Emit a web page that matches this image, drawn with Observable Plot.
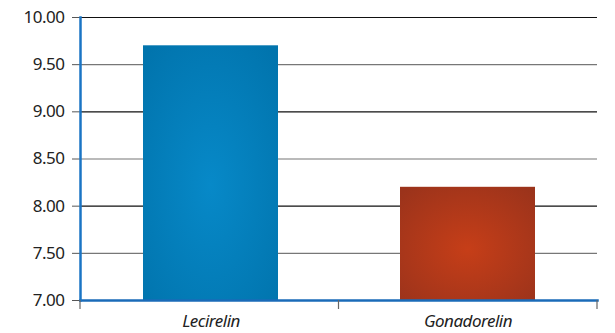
<!DOCTYPE html>
<html>
<head>
<meta charset="utf-8">
<script src="https://cdn.jsdelivr.net/npm/d3@7"></script>
<script src="https://cdn.jsdelivr.net/npm/@observablehq/plot@0.6"></script>
<style>
  html, body { margin: 0; padding: 0; background: #fff; }
  #chart svg { display: block; }
</style>
</head>
<body>
<div id="chart"></div>
<script>
// Values per drug
const drugs = ["Lecirelin", "Gonadorelin"];
const values = [9.70, 8.20];
const gradients = ["url(#gradBlue)", "url(#gradRed)"];
const yTicks = [7.00, 7.50, 8.00, 8.50, 9.00, 9.50, 10.00];

const data = drugs.map((d, i) => ({drug: d, value: values[i], grad: gradients[i]}));
const grid = yTicks.map((t, i) => ({t, stroke: i % 2 === 0 ? "#111" : "#777"}));

const font = "'Noto Sans', sans-serif";

const plot = Plot.plot({
  width: 615,
  height: 333,
  marginLeft: 80,
  marginRight: 18,
  marginTop: 17,
  marginBottom: 33,
  style: {fontFamily: font, fontSize: "17px", color: "#222", background: "#fff", letterSpacing: "-0.5px"},
  x: {domain: drugs, paddingInner: 0.475, paddingOuter: 0.243, label: null},
  y: {domain: [7, 10], label: null},
  color: {type: "identity"},
  marks: [
    Plot.ruleY(grid.filter(d => d.t > 7), {y: "t", stroke: "stroke", strokeWidth: 1.2}),
    Plot.barY(data, {x: "drug", y1: 7, y2: "value", fill: "grad"}),
    Plot.axisY({
      ticks: yTicks, tickFormat: d3.format(".2f"), tickSize: 8, tickPadding: 8,
      stroke: "#555", fontSize: 17, fill: "#222"
    }),
    Plot.axisX({ticks: [], label: null}),
    Plot.text(data, {
      x: "drug", frameAnchor: "bottom", dy: 21, text: "drug",
      fontStyle: "italic", fontSize: 17, fill: "#222", lineAnchor: "middle"
    }),
    Plot.frame({anchor: "bottom", stroke: "#1a6bb8", strokeWidth: 2.5}),
    Plot.frame({anchor: "left", stroke: "#1a74c4", strokeWidth: 2.5})
  ]
});

const svg = d3.select(plot);
const defs = svg.insert("defs", ":first-child");
const mkGrad = (id, inner, outer) => {
  const g = defs.append("radialGradient").attr("id", id)
    .attr("cx", "50%").attr("cy", "55%").attr("r", "70%");
  g.append("stop").attr("offset", "0%").attr("stop-color", inner);
  g.append("stop").attr("offset", "100%").attr("stop-color", outer);
};
mkGrad("gradBlue", "#0789c8", "#0174ad");
mkGrad("gradRed", "#c63e18", "#9b331b");

// Category boundary ticks below the baseline, placed from the x scale's range
const xs = plot.scale("x"), ys = plot.scale("y");
const [left, right] = xs.range;
const y0 = ys.apply(7);
const tickLayer = svg.append("g");
const step = (right - left) / drugs.length;
d3.range(drugs.length + 1).map(i => left + i * step).forEach(bx => {
  tickLayer.append("line").attr("x1", bx).attr("x2", bx).attr("y1", y0).attr("y2", y0 + 9)
    .attr("stroke", "#666").attr("stroke-width", 1.2);
});

document.getElementById("chart").appendChild(plot);
</script>
</body>
</html>
